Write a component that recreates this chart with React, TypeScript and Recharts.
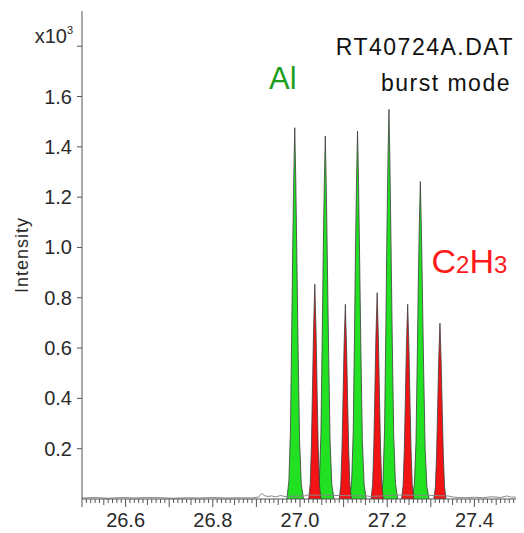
import { Area, ComposedChart, Line, XAxis, YAxis } from "recharts";

type Pt = { t: number; y: number };
const pts = (rows: number[][]): Pt[] => rows.map(([t, y]) => ({ t, y }));

// Al peaks (green), intensity in units of 10^3
const AL_1 = pts([[26.97, 0], [26.9745, 0.074], [26.978, 0.266], [26.981, 0.664], [26.9833, 1.004], [26.9857, 1.284], [26.988, 1.476], [26.9903, 1.269], [26.9927, 0.974], [26.9957, 0.59], [26.999, 0.236], [27.003, 0.059], [27.008, 0]]);
const AL_2 = pts([[27.04, 0], [27.0445, 0.072], [27.048, 0.26], [27.051, 0.649], [27.0533, 0.981], [27.0557, 1.255], [27.058, 1.443], [27.0603, 1.241], [27.0627, 0.952], [27.0657, 0.577], [27.069, 0.231], [27.073, 0.058], [27.078, 0]]);
const AL_3 = pts([[27.114, 0], [27.1185, 0.073], [27.122, 0.263], [27.125, 0.658], [27.1273, 0.995], [27.1297, 1.273], [27.132, 1.463], [27.1343, 1.258], [27.1367, 0.966], [27.1397, 0.585], [27.143, 0.234], [27.147, 0.059], [27.152, 0]]);
const AL_4 = pts([[27.186, 0], [27.1905, 0.077], [27.194, 0.279], [27.197, 0.697], [27.1993, 1.053], [27.2017, 1.348], [27.204, 1.549], [27.2063, 1.332], [27.2087, 1.022], [27.2117, 0.62], [27.215, 0.248], [27.219, 0.062], [27.224, 0]]);
const AL_5 = pts([[27.258, 0], [27.2625, 0.063], [27.266, 0.227], [27.269, 0.568], [27.2713, 0.858], [27.2737, 1.098], [27.276, 1.262], [27.2783, 1.085], [27.2807, 0.833], [27.2837, 0.505], [27.287, 0.202], [27.291, 0.05], [27.296, 0]]);

// C2H3 peaks (red)
const C2H3_1 = pts([[27.02, 0], [27.0235, 0.06], [27.0263, 0.222], [27.0287, 0.444], [27.031, 0.666], [27.034, 0.854], [27.037, 0.649], [27.0393, 0.427], [27.0417, 0.214], [27.0445, 0.06], [27.048, 0]]);
const C2H3_2 = pts([[27.09, 0], [27.0935, 0.054], [27.0963, 0.201], [27.0987, 0.402], [27.101, 0.604], [27.104, 0.774], [27.107, 0.588], [27.1093, 0.387], [27.1117, 0.194], [27.1145, 0.054], [27.118, 0]]);
const C2H3_3 = pts([[27.163, 0], [27.1665, 0.057], [27.1693, 0.213], [27.1717, 0.426], [27.174, 0.64], [27.177, 0.82], [27.18, 0.623], [27.1823, 0.41], [27.1847, 0.205], [27.1875, 0.057], [27.191, 0]]);
const C2H3_4 = pts([[27.233, 0], [27.2365, 0.054], [27.2393, 0.201], [27.2417, 0.402], [27.244, 0.604], [27.247, 0.774], [27.25, 0.588], [27.2523, 0.387], [27.2547, 0.194], [27.2575, 0.054], [27.261, 0]]);
const C2H3_5 = pts([[27.307, 0], [27.3105, 0.049], [27.3133, 0.182], [27.3157, 0.363], [27.318, 0.545], [27.321, 0.699], [27.324, 0.531], [27.3263, 0.35], [27.3287, 0.175], [27.3315, 0.049], [27.335, 0]]);

const AL_PEAKS = [AL_1, AL_2, AL_3, AL_4, AL_5];
const C2H3_PEAKS = [C2H3_1, C2H3_2, C2H3_3, C2H3_4, C2H3_5];

// background noise under the whole trace
const BASELINE = pts([[26.5, 0.004], [26.53, 0.006], [26.56, 0.003], [26.59, 0.006], [26.62, 0.004], [26.65, 0.006], [26.68, 0.005], [26.71, 0.003], [26.74, 0.005], [26.77, 0.004], [26.8, 0.006], [26.83, 0.004], [26.86, 0.005], [26.89, 0.004], [26.905, 0.008], [26.912, 0.022], [26.918, 0.014], [26.925, 0.01], [26.935, 0.012], [26.945, 0.008], [26.955, 0.014], [26.965, 0.01], [27.01, 0.012], [27.016, 0.016], [27.085, 0.014], [27.155, 0.012], [27.16, 0.01], [27.228, 0.016], [27.3, 0.014], [27.34, 0.012], [27.35, 0.008], [27.36, 0.006], [27.38, 0.005], [27.4, 0.007], [27.42, 0.005], [27.44, 0.009], [27.46, 0.006], [27.475, 0.012], [27.485, 0.007], [27.5, 0.008]]);

const X_DOMAIN = [26.5, 27.5];
const Y_DOMAIN = [0, 1.94];
const X_LABELS = [26.6, 26.8, 27.0, 27.2, 27.4];
const Y_TICKS = [0.2, 0.4, 0.6, 0.8, 1.0, 1.2, 1.4, 1.6, 1.8];
const BOTTOM_TICKS = Array.from({ length: 101 }, (_, i) => (2650 + i) / 100);
const TOP_TICKS = Array.from({ length: 51 }, (_, i) => (2650 + 2 * i) / 100);

const FONT = "'Liberation Sans', Arial, sans-serif";
const AXIS = "#555";
const INK = "#2a2a2a";
const GREEN = "#22e022";
const RED = "#f21414";
const OUTLINE = "#3c3c3c";

const hundredths = (v: number) => Math.round(v * 100);

function BottomTick({ x, y, payload }: any) {
  const k = hundredths(payload.value);
  const len = k % 10 === 0 ? 8 : k % 5 === 0 ? 6 : 4;
  const label = X_LABELS.some((l) => hundredths(l) === k);
  return (
    <g>
      <line x1={x} x2={x} y1={y} y2={y + len} stroke={AXIS} strokeWidth={1} />
      {label && (
        <text x={x} y={y + 28} textAnchor="middle" fontSize={20} fill={INK} fontFamily={FONT}>
          {payload.value.toFixed(1)}
        </text>
      )}
    </g>
  );
}

function TopTick({ x, y, payload }: any) {
  const k = hundredths(payload.value);
  const len = k % 20 === 0 ? 9 : 4;
  return <line x1={x} x2={x} y1={y} y2={y + len} stroke={AXIS} strokeWidth={1} />;
}

function LeftTick({ x, y, payload }: any) {
  if (Math.abs(payload.value - 1.8) < 1e-6) {
    return (
      <text x={x + 1} y={y - 3} textAnchor="end" fontSize={20} fill={INK} fontFamily={FONT}>
        x10
        <tspan fontSize={11} dy={-9}>3</tspan>
      </text>
    );
  }
  return (
    <text x={x} y={y + 7} textAnchor="end" fontSize={20} fill={INK} fontFamily={FONT}>
      {payload.value.toFixed(1)}
    </text>
  );
}

export default function App() {
  return (
    <div style={{ position: "relative", width: 516, height: 525 }}>
      <ComposedChart width={516} height={525} margin={{ top: 3, right: 6, bottom: 0, left: 0 }}>
        <XAxis
          dataKey="t"
          type="number"
          domain={X_DOMAIN}
          allowDataOverflow
          ticks={BOTTOM_TICKS}
          interval={0}
          tickSize={0}
          tickMargin={0}
          tickLine={false}
          tick={<BottomTick />}
          axisLine={{ stroke: AXIS }}
          height={34}
        />
        <XAxis
          xAxisId="top"
          orientation="top"
          dataKey="t"
          type="number"
          domain={X_DOMAIN}
          allowDataOverflow
          ticks={TOP_TICKS}
          interval={0}
          tickSize={0}
          tickMargin={0}
          tickLine={false}
          tick={<TopTick />}
          axisLine={{ stroke: AXIS }}
          height={0}
        />
        <YAxis
          type="number"
          domain={Y_DOMAIN}
          allowDataOverflow
          ticks={Y_TICKS}
          interval={0}
          tickSize={5}
          tickMargin={5}
          tickLine={{ stroke: AXIS }}
          axisLine={{ stroke: AXIS }}
          tick={<LeftTick />}
          width={74}
          label={{
            value: "Intensity",
            angle: -90,
            position: "insideLeft",
            offset: 14,
            fontSize: 18,
            fill: INK,
            fontFamily: FONT,
            style: { textAnchor: "middle", letterSpacing: 1 },
          }}
        />
        <Line
          data={BASELINE}
          dataKey="y"
          type="linear"
          stroke="#888"
          strokeWidth={1}
          dot={false}
          activeDot={false}
          isAnimationActive={false}
        />
        {AL_PEAKS.map((d, i) => (
          <Area
            key={`al${i}`}
            data={d}
            dataKey="y"
            type="linear"
            stroke={OUTLINE}
            strokeWidth={0.8}
            fill={GREEN}
            fillOpacity={1}
            dot={false}
            activeDot={false}
            isAnimationActive={false}
          />
        ))}
        {C2H3_PEAKS.map((d, i) => (
          <Area
            key={`c${i}`}
            data={d}
            dataKey="y"
            type="linear"
            stroke={OUTLINE}
            strokeWidth={0.8}
            fill={RED}
            fillOpacity={1}
            dot={false}
            activeDot={false}
            isAnimationActive={false}
          />
        ))}
      </ComposedChart>
      <svg
        width={516}
        height={525}
        style={{ position: "absolute", left: 0, top: 0, pointerEvents: "none" }}
        fontFamily={FONT}
      >
        <text x={506} y={47} textAnchor="end" fontSize={23} letterSpacing={1.5} fill="#111">
          RT40724A.DAT
        </text>
        <text x={503} y={82.5} textAnchor="end" fontSize={23} letterSpacing={1.5} fill="#111">
          burst mode
        </text>
        <text x={261} y={81} fontSize={31} fill="#1e9e1e">
          Al
        </text>
        <text x={423.5} y={265} fontSize={34} fill="#ff1a1a">
          C<tspan fontSize={24}>2</tspan>H<tspan fontSize={24}>3</tspan>
        </text>
      </svg>
    </div>
  );
}
